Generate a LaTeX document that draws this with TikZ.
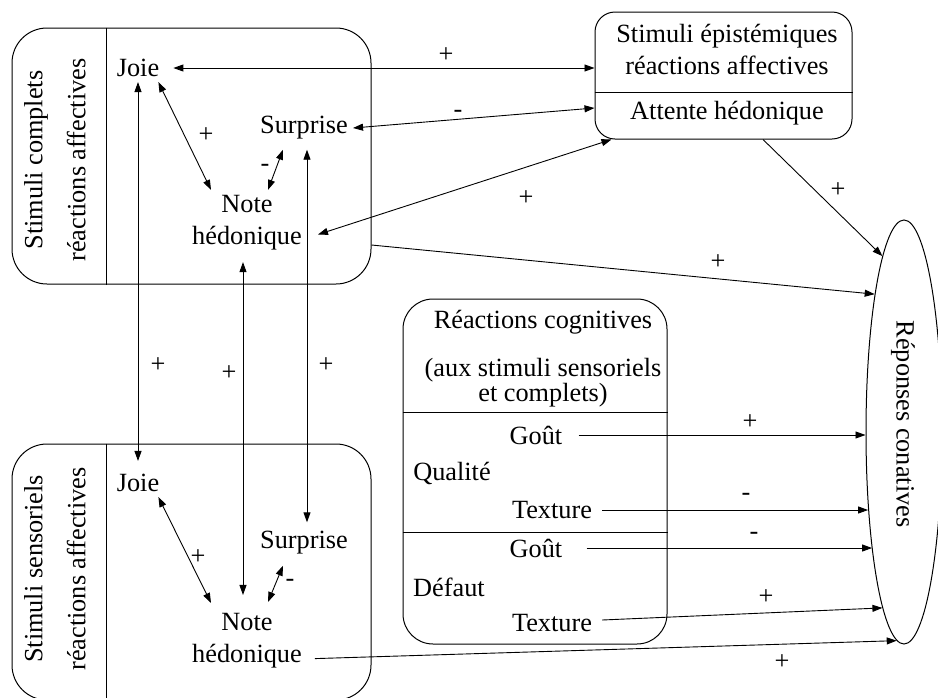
\documentclass[tikz,border=0pt]{standalone}
\usepackage{fontspec}
\setmainfont{Liberation Serif}
\usetikzlibrary{
  calc,
  positioning,
  arrows.meta,
  shapes.geometric
}

\begin{document}
\begin{tikzpicture}[x=1pt, y=-1pt, >={Triangle[length=10pt,width=7pt]},
  font=\fontsize{26.3}{32}\selectfont]
  \tikzset{
    cadre/.style={draw, line width=1pt, rounded corners=#1, inner sep=0pt},
    cadre/.default=35pt,
    mot/.style={inner sep=5pt},
    signe/.style={inner sep=0pt},
    lien/.style={line width=0.9pt, <->},
    effet/.style={line width=0.9pt, ->},
    trait/.style={line width=1pt},
  }

  \useasboundingbox (0,0) rectangle (938,697);
  \clip (0,0) rectangle (938,697);

  % stimuli complets
  \node[cadre, minimum width=359pt, minimum height=256pt] (complets) at (191.5,156) {};
  \draw[trait] ([xshift=95pt]complets.north west) -- ([xshift=95pt]complets.south west);
  \node[rotate=90, align=center] (complLbl) at (55,160) {Stimuli complets\\[11pt]réactions affectives};
  \node[mot] (joieA) at (138,68) {Joie};
  \node[mot] (surpA) at (304,128) {Surprise};
  \node[mot, align=center] (noteA) at (247,222.5) {Note\\hédonique};

  % stimuli sensoriels
  \node[cadre, minimum width=359pt, minimum height=256pt] (sensor) at (191.5,572) {};
  \draw[trait] ([xshift=95pt]sensor.north west) -- ([xshift=95pt]sensor.south west);
  \node[rotate=90, align=center] (sensLbl) at (55,569) {Stimuli sensoriels\\[11pt]réactions affectives};
  \node[mot] (joieB) at (138,483) {Joie};
  \node[mot] (surpB) at (304,543) {Surprise};
  \node[mot, align=center] (noteB) at (247,640.6) {Note\\hédonique};

  % stimuli epistemiques
  \node[cadre=20pt, minimum width=257pt, minimum height=127pt] (epist) at (723.5,75.5) {};
  \draw[trait] ([yshift=-16.5pt]epist.west) -- ([yshift=-16.5pt]epist.east);
  \node[align=center] (epistTxt) at (727,49) {Stimuli épistémiques\\réactions affectives};
  \node (attente) at (727,113) {Attente hédonique};

  % reactions cognitives
  \node[cadre=30pt, minimum width=264pt, minimum height=345pt] (cognitif) at (535,471.5) {};
  \draw[trait] ([yshift=59.5pt]cognitif.west) -- ([yshift=59.5pt]cognitif.east);
  \draw[trait] ([yshift=-60.5pt]cognitif.west) -- ([yshift=-60.5pt]cognitif.east);
  \node (cognTxt) at (543,322) {Réactions cognitives};
  \node[align=center] (cognSous) at (543,383) {(aux stimuli sensoriels\\[-7pt]et complets)};
  \node[mot] (goutQ) at (536,435) {Goût};
  \node[mot] (qualite) at (452,473) {Qualité};
  \node[mot] (textQ) at (552,510) {Texture};
  \node[mot] (goutD) at (536,548) {Goût};
  \node[mot] (defaut) at (449,587) {Défaut};
  \node[mot] (textD) at (552,623) {Texture};

  % reponses conatives
  \node[draw, ellipse, line width=1pt, inner sep=0pt, minimum width=76pt, minimum height=424pt] (conat) at (904,432) {};
  \node[rotate=-90] (conatTxt) at (903,424) {Réponses conatives};

  % liens
  \draw[lien] ([xshift=9pt]joieA.east) -- (joieA.east -| epist.west);
  \draw[lien] (surpA.east) -- ([yshift=-32.5pt]epist.west);
  \draw[lien] ([xshift=11pt,yshift=-12pt]noteA.east) -- ([xshift=17pt]epist.south west);
  \draw[effet] ([yshift=-89pt]complets.east) -- (conat.102.5);
  \draw[effet] ([xshift=39.5pt]epist.south) -- (conat.97);

  \draw[lien] ([xshift=-6pt]joieA.south east) -- ([xshift=-36pt]noteA.north);
  \draw[lien] ([xshift=-21pt,yshift=-5pt]surpA.south) -- ([xshift=21pt]noteA.north);
  \draw[lien] (joieA.south) -- ([yshift=8pt]joieB.north);
  \draw[lien] ([xshift=-4pt,yshift=-7pt]noteA.south) -- ([xshift=-4pt,yshift=13pt]noteB.north);
  \draw[lien] ([xshift=3pt,yshift=-5pt]surpA.south) -- ([xshift=3pt,yshift=4pt]surpB.north);
  \draw[lien] ([xshift=-6pt]joieB.south east) -- ([xshift=-36pt,yshift=5pt]noteB.north);
  \draw[lien] ([xshift=-21pt,yshift=-6pt]surpB.south) -- ([xshift=21pt,yshift=6pt]noteB.north);
  \draw[effet] ([xshift=8pt,yshift=-18pt]noteB.east) -- (conat.268);

  \draw[effet] ([xshift=11pt]goutQ.east) -- (goutQ.east -| conat.west);
  \draw[effet] ([xshift=5pt]textQ.east) -- (textQ.east -| conat.245);
  \draw[effet] ([xshift=19pt]goutD.east) -- (goutD.east -| conat.255);
  \draw[effet] ([xshift=5pt,yshift=3pt]textD.east) -- (conat.263);

  % signes
  \node[signe] (sJE) at (446,55) {+};
  \node[signe] (sSA) at (458,114) {-};
  \node[signe] (sNE) at (526,198) {+};
  \node[signe] (sCR) at (718,262) {+};
  \node[signe] (sER) at (838,190) {+};
  \node[signe] (sJNa) at (206,135) {+};
  \node[signe] (sSNa) at (265,168) {-};
  \node[signe] (sJJ) at (158,365) {+};
  \node[signe] (sNN) at (229,373) {+};
  \node[signe] (sSS) at (326,365) {+};
  \node[signe] (sJNb) at (198,557) {+};
  \node[signe] (sSNb) at (290,583) {-};
  \node[signe] (sGQ) at (750,422) {+};
  \node[signe] (sTQ) at (746,497) {-};
  \node[signe] (sGD) at (754,536) {-};
  \node[signe] (sTD) at (766,597) {+};
  \node[signe] (sNR) at (782,662) {+};
\end{tikzpicture}
\end{document}
